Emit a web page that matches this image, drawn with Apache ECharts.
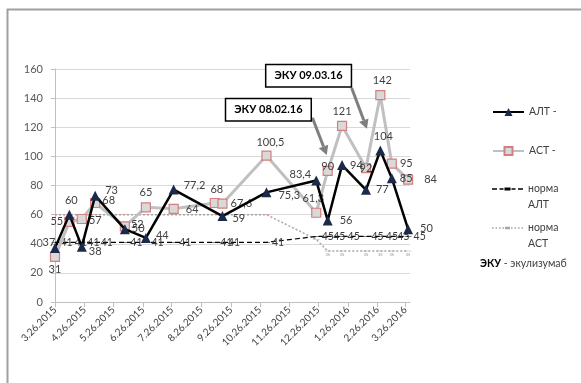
<!DOCTYPE html>
<html>
<head>
<meta charset="utf-8">
<script src="https://cdn.jsdelivr.net/npm/echarts@6/dist/echarts.min.js"></script>
<style>
  html, body { margin: 0; padding: 0; background: #fff; }
  #chart { width: 581px; height: 383px; }
</style>
</head>
<body>
<div id="chart"></div>
<script>
// Monthly ticks of the date axis (M.D.YYYY)
const tickLabels = ['3.26.2015', '4.26.2015', '5.26.2015', '6.26.2015', '7.26.2015', '8.26.2015',
  '9.26.2015', '10.26.2015', '11.26.2015', '12.26.2015', '1.26.2016', '2.26.2016', '3.26.2016'];

// Sampling dates
const sampleDates = ['2015-03-26', '2015-04-10', '2015-04-23', '2015-05-07', '2015-06-07', '2015-06-29',
  '2015-07-28', '2015-09-09', '2015-09-17', '2015-11-02', '2015-12-24', '2016-01-05', '2016-01-20',
  '2016-02-14', '2016-02-29', '2016-03-12', '2016-03-29'];

// АЛТ, АСТ and their reference norms
const altValues = [37, 60, 38, 73, 50, 44, 77.2, null, 59, 75.3, 83.4, 56, 94, 77, 104, 85, 50];
const astValues = [31, 55, 57, 68, 52, 65, 64, 68, 67.6, 100.5, 61.3, 90, 121, 92, 142, 95, 84];
const altNorm = [41, 41, 41, 41, 41, 41, 41, 41, 41, 41, 45, 45, 45, 45, 45, 45, 45];
const astNorm = [60, 60, 60, 60, 60, 60, 60, 60, 60, 60, 43, 35, 35, 35, 35, 35, 35];

// Date range of the axis
const axisStart = '2015-03-26';
const axisEnd = '2016-03-31';

// Annotations: text, box anchor [date, value], arrow tail and tip [date, value]
const notes = [
  { text: 'ЭКУ 08.02.16', box: ['2015-11-04', 132], tail: ['2015-12-20', 126.5], tip: ['2016-01-04', 101] },
  { text: 'ЭКУ 09.03.16', box: ['2015-12-16', 155.4], tail: ['2016-01-30', 147], tip: ['2016-02-15', 119] }
];

// Label placement per point: [position, dx, dy]
const altLabelLayout = [
  ['top', -6, 10], ['top', 2, 1], ['right', -3, 5], ['right', 0, -5], ['right', -3, -1], ['right', 0, -2],
  ['right', 0, -4], null, ['right', 0, 2], ['right', 2, 3], ['left', 5, -6], ['right', 2, 0],
  ['right', -2, 0], ['right', 0, 0], ['top', 3, 1], ['right', -2, 0], ['right', 2, -1]
];
const astLabelLayout = [
  ['bottom', 0, -3], ['left', 4, 0], ['right', -3, 1], ['right', -3, -3], ['right', -4, -2], ['top', 0, 1],
  ['right', 2, 1], ['top', 2, 2], ['right', -2, 0], ['top', 4, 2], ['top', -3, 1], ['inside', 0, -4],
  ['top', 0, 1], ['inside', 0, 0], ['top', 2, 1], ['right', -2, 0], ['right', 6, 0]
];

const FONT = 'Lato, "Open Sans", sans-serif';
const TEXT = '#404040';

function isoTime(s) {
  const p = s.split('-').map(Number);
  return new Date(p[0], p[1] - 1, p[2]).getTime();
}
function mdyTime(s) {
  const p = s.split('.').map(Number);
  return new Date(p[2], p[0] - 1, p[1]).getTime();
}
const tickTimes = tickLabels.map(mdyTime);

function fmtNum(v) {
  return String(v).replace('.', ',');
}

function buildData(values, layout) {
  return values.map(function (v, i) {
    const item = { value: [isoTime(sampleDates[i]), v] };
    const l = layout && layout[i];
    if (l) item.label = { position: l[0], offset: [l[1], l[2]] };
    return item;
  });
}

const dashSymbol = 'path://M0,0H8V2H0Z';
// Legend icons for the norm lines: dashes / dots with a marker in the middle
const dashedIcon = 'path://M0,1h5v1.4h-5z M7.5,1h4v1.4h-4z M12.5,0.2h6v3h-6z M19.5,1h4v1.4h-4z M26,1h5v1.4h-5z';
const dottedIcon = 'path://M0,1h1.6v1.4h-1.6z M3.5,1h1.6v1.4h-1.6z M7,1h1.6v1.4h-1.6z M10.5,1h1.6v1.4h-1.6z ' +
  'M13,0.4h5v2.6h-5z M19,1h1.6v1.4h-1.6z M22.5,1h1.6v1.4h-1.6z M26,1h1.6v1.4h-1.6z M29.4,1h1.6v1.4h-1.6z';

const chart = echarts.init(document.getElementById('chart'), null, { renderer: 'canvas' });

const labelBase = {
  show: true,
  fontFamily: FONT,
  fontSize: 11,
  color: TEXT,
  formatter: function (p) { return fmtNum(p.value[1]); }
};

const legendItems = [
  { name: 'АЛТ -', top: 99 },
  { name: 'АСТ -', top: 138 },
  { name: 'норма АЛТ', top: 160, icon: dashedIcon, color: '#000' },
  { name: 'норма АСТ', top: 199, icon: dottedIcon, color: '#a6a6a6' }
];

const option = {
  animation: false,
  backgroundColor: '#fff',
  textStyle: { fontFamily: FONT },
  grid: { left: 55, top: 69, width: 355, height: 233 },
  xAxis: {
    type: 'value',
    min: isoTime(axisStart),
    max: isoTime(axisEnd),
    axisLine: { show: true, lineStyle: { color: '#bfbfbf', width: 1 } },
    axisTick: { show: true, customValues: tickTimes, length: 5, lineStyle: { color: '#bfbfbf' } },
    splitLine: { show: false },
    axisLabel: {
      customValues: tickTimes,
      rotate: 45,
      margin: 6,
      fontSize: 10,
      fontFamily: FONT,
      color: TEXT,
      formatter: function (val) {
        const i = tickTimes.indexOf(val);
        return i >= 0 ? tickLabels[i] : '';
      }
    }
  },
  yAxis: {
    type: 'value',
    min: 0,
    max: 160,
    interval: 20,
    axisLine: { show: true, lineStyle: { color: '#bfbfbf' } },
    axisTick: { show: true, length: 4, lineStyle: { color: '#bfbfbf' } },
    splitLine: { show: true, lineStyle: { color: '#d9d9d9', width: 1 } },
    axisLabel: { fontSize: 11, fontFamily: FONT, color: '#595959', margin: 12 }
  },
  legend: legendItems.map(function (l) {
    const item = { name: l.name };
    if (l.icon) {
      item.icon = l.icon;
      item.itemStyle = { color: l.color, borderWidth: 0 };
    }
    return {
      orient: 'vertical',
      left: 487,
      top: l.top,
      itemWidth: 31,
      itemHeight: 10,
      itemGap: 5,
      selectedMode: false,
      data: [item],
      // two-word names go on two lines; a blank first line keeps the icon level with the first word
      formatter: function (n) {
        return n.indexOf('норма') === 0 ? '\u00a0\n' + n.replace(' ', '\n') : n;
      },
      textStyle: { fontFamily: FONT, fontSize: 10.5, color: TEXT, lineHeight: 16 }
    };
  }),
  series: [
    {
      name: 'норма АСТ',
      type: 'line',
      z: 2,
      data: buildData(astNorm, null),
      symbol: dashSymbol,
      symbolSize: [7, 2],
      symbolKeepAspect: true,
      itemStyle: { color: '#d99694' },
      lineStyle: { color: '#a6a6a6', width: 1.5, type: [2, 2] },
      label: {
        show: true,
        position: 'bottom',
        distance: 1,
        fontSize: 4,
        fontFamily: FONT,
        color: '#8c8c8c',
        formatter: function (p) { return p.value[1] < 40 ? String(p.value[1]) : ''; }
      }
    },
    {
      name: 'норма АЛТ',
      type: 'line',
      z: 3,
      data: buildData(altNorm, null),
      symbol: dashSymbol,
      symbolSize: [7, 2],
      symbolKeepAspect: true,
      itemStyle: { color: '#000' },
      lineStyle: { color: '#000', width: 1.2, type: [5, 3] },
      label: {
        show: true,
        position: 'right',
        distance: 2,
        fontSize: 10.5,
        fontFamily: FONT,
        color: '#3a3a3a',
        formatter: function (p) { return String(p.value[1]); }
      }
    },
    {
      name: 'АСТ -',
      type: 'line',
      z: 4,
      data: buildData(astValues, astLabelLayout),
      symbol: 'rect',
      symbolSize: 9,
      itemStyle: { color: '#d9d9d9', borderColor: '#d47f7f', borderWidth: 1.2 },
      lineStyle: { color: '#c0c0c0', width: 3 },
      label: labelBase
    },
    {
      name: 'АЛТ -',
      type: 'line',
      z: 5,
      connectNulls: true,
      data: buildData(altValues, altLabelLayout),
      symbol: 'triangle',
      symbolSize: 10,
      itemStyle: { color: '#1c2a4a' },
      lineStyle: { color: '#000', width: 2.5 },
      label: labelBase
    }
  ]
};

chart.setOption(option);

// Annotation boxes with arrows, placed in data coordinates
function px(p) {
  return chart.convertToPixel({ xAxisIndex: 0, yAxisIndex: 0 }, [isoTime(p[0]), p[1]]);
}
function arrowHead(tail, tip, len, half) {
  const dx = tip[0] - tail[0], dy = tip[1] - tail[1];
  const d = Math.sqrt(dx * dx + dy * dy);
  const ux = dx / d, uy = dy / d;
  const bx = tip[0] - ux * len, by = tip[1] - uy * len;
  return [tip, [bx - uy * half, by + ux * half], [bx + uy * half, by - ux * half]];
}

const graphics = [
  {
    type: 'rect',
    silent: true,
    shape: { x: 7.5, y: 9.5, width: 600, height: 400 },
    style: { fill: 'none', stroke: '#a0a0a0', lineWidth: 2 }
  },
  {
    type: 'text',
    left: 480,
    top: 258,
    style: {
      text: '{b|ЭКУ} - экулизумаб',
      fontFamily: FONT,
      fontSize: 10.5,
      fill: TEXT,
      rich: { b: { fontWeight: 'bold', fontFamily: FONT, fontSize: 10.5, fill: '#000' } }
    }
  }
];

notes.forEach(function (n) {
  const b = px(n.box), t0 = px(n.tail), t1 = px(n.tip);
  const head = arrowHead(t0, t1, 9, 5);
  const stop = [(head[1][0] + head[2][0]) / 2, (head[1][1] + head[2][1]) / 2];
  graphics.push({
    type: 'line',
    silent: true,
    z: 20,
    shape: { x1: t0[0], y1: t0[1], x2: stop[0], y2: stop[1] },
    style: { stroke: '#7f7f7f', lineWidth: 3 }
  });
  graphics.push({
    type: 'polygon',
    silent: true,
    z: 20,
    shape: { points: head },
    style: { fill: '#7f7f7f' }
  });
  graphics.push({
    type: 'text',
    silent: true,
    z: 21,
    x: b[0],
    y: b[1],
    style: {
      text: n.text,
      align: 'center',
      verticalAlign: 'middle',
      fontFamily: FONT,
      fontWeight: 'bold',
      fontSize: 11,
      fill: '#000',
      backgroundColor: '#fff',
      borderColor: '#000',
      borderWidth: 1.5,
      padding: [5, 8, 5, 8]
    }
  });
});

chart.setOption({ graphic: graphics });
</script>
</body>
</html>
